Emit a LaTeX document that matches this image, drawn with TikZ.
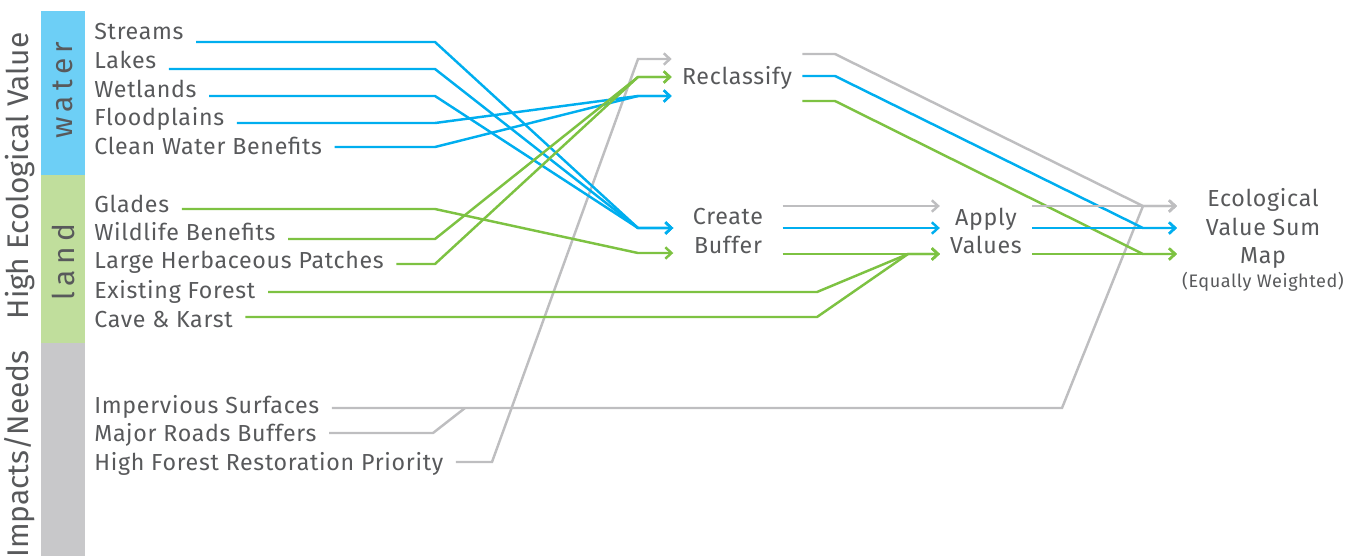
\documentclass[tikz,border=0pt]{standalone}
\usepackage{fontspec}
\setmainfont{Fira Sans}
\usetikzlibrary{arrows.meta}
\definecolor{mblue}{RGB}{0,174,239}
\definecolor{mgreen}{RGB}{125,194,66}
\definecolor{mgray}{RGB}{190,190,192}
\definecolor{barblue}{RGB}{109,207,246}
\definecolor{bargreen}{RGB}{192,222,156}
\definecolor{bargray}{RGB}{200,200,202}
\definecolor{ink}{RGB}{88,89,91}

\begin{document}
\begin{tikzpicture}[x=0.02cm, y=-0.02cm,
    every node/.style={text=ink, font=\fontsize{13.2}{16.3}\selectfont\addfontfeature{LetterSpace=3}},
    item/.style={anchor=base west, inner sep=0pt},
    proc/.style={align=center, inner xsep=5.7pt, inner ysep=0pt},
    title/.style={rotate=90, font=\fontsize{17}{20}\selectfont},
    wline/.style={mblue, line width=1.4pt},
    gline/.style={mgreen, line width=1.4pt},
    nline/.style={mgray, line width=1.4pt},
    tip/.style={-{Straight Barb[length=3.5pt,width=6.5pt]}},
    lead/.style={shorten <=7pt}]
    \useasboundingbox (0,0) rectangle (1355,556);

    \fill[barblue]  (41,11)  rectangle (85,175);
    \fill[bargreen] (41,175) rectangle (85,343);
    \fill[bargray]  (41,343) rectangle (85,556);

    \node[title] (highval) at (20,176) {High Ecological Value};
    \node[title] (needs)   at (20,454) {Impacts/Needs};
    \node[title, font=\fontsize{17}{20}\selectfont\addfontfeature{LetterSpace=18}] (water) at (63,90)  {water};
    \node[title, font=\fontsize{17}{20}\selectfont\addfontfeature{LetterSpace=18}] (land)  at (63,262) {land};

    \node[item] (streams)    at (94,39)  {Streams};
    \node[item] (lakes)      at (94,68)  {Lakes};
    \node[item] (wetlands)   at (94,97)  {Wetlands};
    \node[item] (flood)      at (94,125) {Floodplains};
    \node[item] (cleanwater) at (94,154) {Clean Water Benefits};
    \node[item] (glades)     at (94,212) {Glades};
    \node[item] (wildlife)   at (94,240) {Wildlife Benefits};
    \node[item] (herb)       at (94,268) {Large Herbaceous Patches};
    \node[item] (forest)     at (94,298) {Existing Forest};
    \node[item] (cave)       at (94,327) {Cave \& Karst};
    \node[item] (imperv)     at (94,413) {Impervious Surfaces};
    \node[item] (roads)      at (94,441) {Major Roads Buffers};
    \node[item] (restor)     at (94,470) {High Forest Restoration Priority};

    \node[proc] (reclass) at (737,78) {Reclassify};
    \node[proc, inner xsep=11pt] (buffer) at (728,231) {Create\\Buffer};
    \node[proc] (apply) at (986,231) {Apply\\Values};
    \node[proc, inner xsep=2.8pt, anchor=base] (summap) at (1263,287)
        {Ecological\\Value Sum\\Map\\[-3pt]{\fontsize{10.3}{12}\selectfont\addfontfeature{LetterSpace=3}(Equally Weighted)}};

    \coordinate (bStreams) at (435,42);
    \coordinate (bLakes)   at (435,69);
    \coordinate (bWet)     at (435,96);
    \coordinate (bFlood)   at (435,123);
    \coordinate (bClean)   at (435,147);
    \coordinate (bGlades)  at (435,209);
    \coordinate (bWild)    at (435,239);
    \coordinate (bHerb)    at (435,264);
    \coordinate (bForest)  at (817,292);
    \coordinate (bCave)    at (817,317);
    \coordinate (bImperv)  at (1062,408);
    \coordinate (bRoads)   at (433,433);
    \coordinate (jRoads)   at (465,408);
    \coordinate (bRestor)  at (492,462);

    \coordinate (rcGray)  at (638,59);
    \coordinate (rcGreen) at (638,77);
    \coordinate (rcBlue)  at (638,96);
    \coordinate (cbBlue)  at (638,228);
    \coordinate (cbGreen) at (638,253);
    \coordinate (avGreen) at (908,254);
    \coordinate (oGray)   at (835,54);
    \coordinate (oBlue)   at (835,76);
    \coordinate (oGreen)  at (835,101);
    \coordinate (smGray)  at (1143,206);
    \coordinate (smBlue)  at (1143,228);
    \coordinate (smGreen) at (1143,254);

    \draw[nline, lead] (roads.east |- bRoads) -- (bRoads) -- (jRoads);
    \draw[nline, lead, tip] (imperv.east |- bImperv) -- (bImperv) -- (smGray) -- (summap.west |- smGray);
    \draw[nline, lead, tip] (restor.east |- bRestor) -- (bRestor) -- (rcGray) -- (reclass.west |- rcGray);

    \draw[wline, lead, tip] (streams.east |- bStreams) -- (bStreams) -- (cbBlue) -- (buffer.west |- cbBlue);
    \draw[wline, lead, tip] (lakes.east |- bLakes) -- (bLakes) -- (cbBlue) -- (buffer.west |- cbBlue);
    \draw[wline, lead, tip] (wetlands.east |- bWet) -- (bWet) -- (cbBlue) -- (buffer.west |- cbBlue);
    \draw[wline, lead, tip] (flood.east |- bFlood) -- (bFlood) -- (rcBlue) -- (reclass.west |- rcBlue);
    \draw[wline, lead, tip] (cleanwater.east |- bClean) -- (bClean) -- (rcBlue) -- (reclass.west |- rcBlue);

    \draw[gline, lead, tip] (glades.east |- bGlades) -- (bGlades) -- (cbGreen) -- (buffer.west |- cbGreen);
    \draw[gline, lead, tip] (wildlife.east |- bWild) -- (bWild) -- (rcGreen) -- (reclass.west |- rcGreen);
    \draw[gline, lead, tip] (herb.east |- bHerb) -- (bHerb) -- (rcGreen) -- (reclass.west |- rcGreen);
    \draw[gline, lead, tip] (forest.east |- bForest) -- (bForest) -- (avGreen) -- (apply.west |- avGreen);
    \draw[gline, lead, tip] (cave.east |- bCave) -- (bCave) -- (avGreen) -- (apply.west |- avGreen);

    \draw[nline, tip] (reclass.east |- oGray) -- (oGray) -- (smGray) -- (summap.west |- smGray);
    \draw[wline, tip] (reclass.east |- oBlue) -- (oBlue) -- (smBlue) -- (summap.west |- smBlue);
    \draw[gline, tip] (reclass.east |- oGreen) -- (oGreen) -- (smGreen) -- (summap.west |- smGreen);

    \draw[nline, tip] (buffer.east |- smGray) -- (apply.west |- smGray);
    \draw[wline, tip] (buffer.east |- cbBlue) -- (apply.west |- cbBlue);
    \draw[gline, tip] (buffer.east |- avGreen) -- (apply.west |- avGreen);

    \draw[nline, tip] (apply.east |- smGray) -- (summap.west |- smGray);
    \draw[wline, tip] (apply.east |- smBlue) -- (summap.west |- smBlue);
    \draw[gline, tip] (apply.east |- smGreen) -- (summap.west |- smGreen);
\end{tikzpicture}
\end{document}
